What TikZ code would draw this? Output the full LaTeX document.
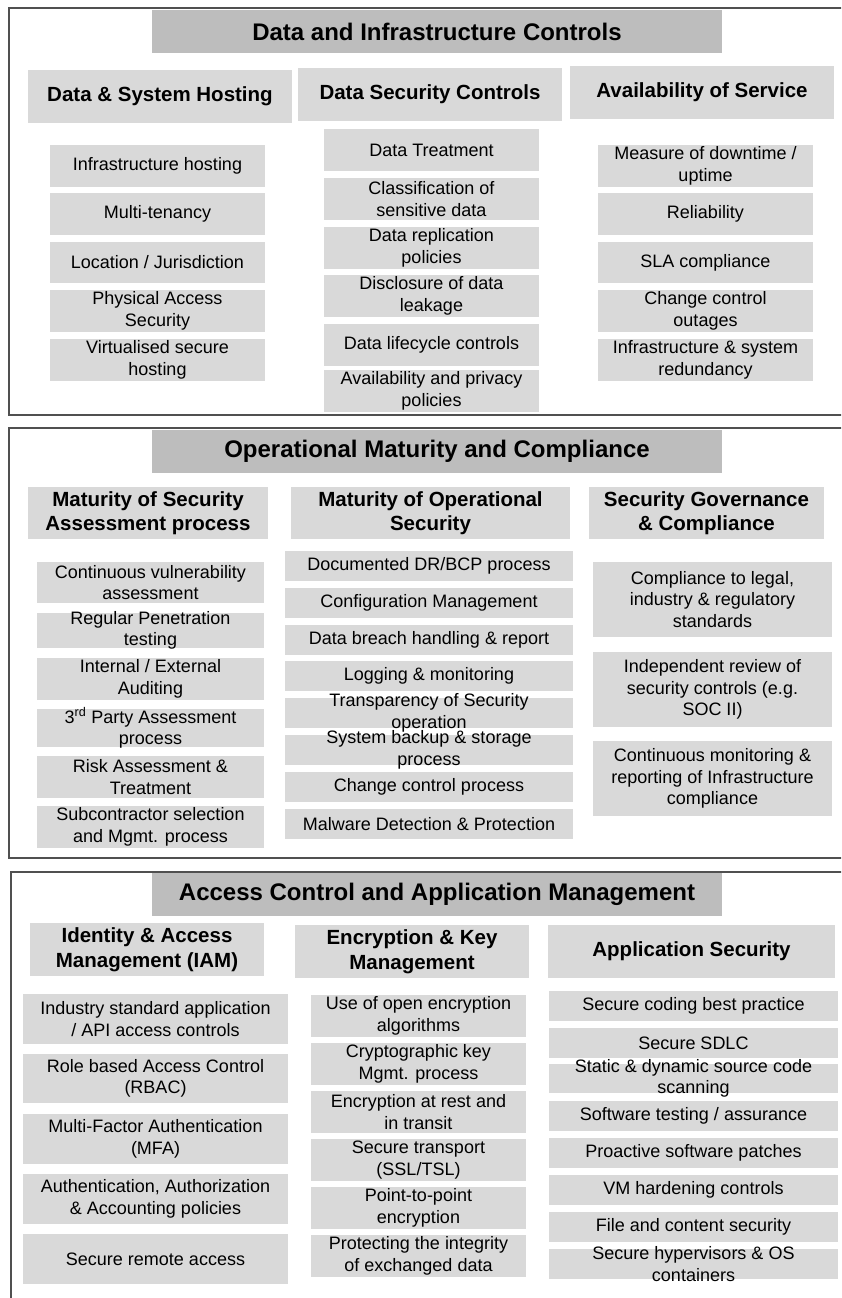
\documentclass[tikz,border=0pt]{standalone}
\usepackage{fontspec}
\setmainfont{Liberation Sans}
\definecolor{barfill}{HTML}{BDBDBD}
\definecolor{cellfill}{HTML}{D9D9D9}
\definecolor{framecol}{HTML}{505050}
\tikzset{
  titlebox/.style={fill=barfill},
  cellbox/.style={fill=cellfill},
  titletext/.style={font={\fontsize{24}{28.8}\selectfont\bfseries}, align=center, inner sep=0pt},
  headtext/.style={font={\fontsize{20.5}{24.6}\selectfont\bfseries}, align=center, inner sep=0pt},
  itemtext/.style={font={\fontsize{18}{21.6}\selectfont}, align=center, inner sep=0pt},
  sectionframe/.style={draw=framecol, line width=1.6pt},
}
% \cell{fill style}{text style}{name}{x1}{y1}{x2}{y2}{text}
\newcommand{\cell}[8]{%
  \fill[#1] (#4,#5) rectangle (#6,#7);
  \node[#2] (#3) at ({(#4+#6)/2},{(#5+#7)/2}) {#8};
}
\begin{document}
\begin{tikzpicture}[x=1pt,y=-1pt]
\useasboundingbox (0,0) rectangle (841,1298);
\clip (0,0) rectangle (841,1298);
\fill[white] (0,0) rectangle (841,1298);

% ---------------- Data and Infrastructure Controls ----------------
\draw[sectionframe] (9,8) rectangle (880,415);
\cell{titlebox}{titletext}{t1}{152}{10}{722}{53}{Data and Infrastructure Controls}
\cell{cellbox}{headtext}{h11}{28}{70}{292}{123}{Data \& System Hosting}
\cell{cellbox}{headtext}{h12}{298}{68}{562}{121}{Data Security Controls}
\cell{cellbox}{headtext}{h13}{570}{66}{834}{119}{Availability of Service}

\cell{cellbox}{itemtext}{a1}{50}{145}{265}{187}{Infrastructure hosting}
\cell{cellbox}{itemtext}{a2}{50}{193}{265}{235}{Multi-tenancy}
\cell{cellbox}{itemtext}{a3}{50}{242}{265}{283}{Location / Jurisdiction}
\cell{cellbox}{itemtext}{a4}{50}{290}{265}{332}{Physical Access\\Security}
\cell{cellbox}{itemtext}{a5}{50}{339}{265}{381}{Virtualised secure\\hosting}

\cell{cellbox}{itemtext}{b1}{324}{129}{539}{171}{Data Treatment}
\cell{cellbox}{itemtext}{b2}{324}{178}{539}{220}{Classification of\\sensitive data}
\cell{cellbox}{itemtext}{b3}{324}{227}{539}{269}{Data replication\\policies}
\cell{cellbox}{itemtext}{b4}{324}{275}{539}{317}{Disclosure of data\\leakage}
\cell{cellbox}{itemtext}{b5}{324}{324}{539}{366}{Data lifecycle controls}
\cell{cellbox}{itemtext}{b6}{324}{370}{539}{412}{Availability and privacy\\policies}

\cell{cellbox}{itemtext}{c1}{598}{145}{813}{187}{Measure of downtime /\\uptime}
\cell{cellbox}{itemtext}{c2}{598}{193}{813}{235}{Reliability}
\cell{cellbox}{itemtext}{c3}{598}{242}{813}{283}{SLA compliance}
\cell{cellbox}{itemtext}{c4}{598}{290}{813}{332}{Change control\\outages}
\cell{cellbox}{itemtext}{c5}{598}{339}{813}{381}{Infrastructure \& system\\redundancy}

% ---------------- Operational Maturity and Compliance ----------------
\draw[sectionframe] (9,428) rectangle (880,858);
\cell{titlebox}{titletext}{t2}{152}{430}{722}{473}{Operational Maturity and Compliance}
\cell{cellbox}{headtext}{h21}{28}{487}{268}{539}{Maturity of Security\\Assessment process}
\cell{cellbox}{headtext}{h22}{291}{487}{570}{539}{Maturity of Operational\\Security}
\cell{cellbox}{headtext}{h23}{589}{487}{824}{539}{Security Governance\\\& Compliance}

\cell{cellbox}{itemtext}{d1}{37}{562}{264}{603}{Continuous vulnerability\\assessment}
\cell{cellbox}{itemtext}{d2}{37}{613}{264}{648}{Regular Penetration\\testing}
\cell{cellbox}{itemtext}{d3}{37}{658}{264}{700}{Internal / External\\Auditing}
\cell{cellbox}{itemtext}{d4}{37}{709}{264}{747}{3\textsuperscript{rd} Party Assessment\\process}
\cell{cellbox}{itemtext}{d5}{37}{756}{264}{798}{Risk Assessment \&\\Treatment}
\cell{cellbox}{itemtext}{d6}{37}{806}{264}{848}{Subcontractor selection\\and Mgmt. process}

\cell{cellbox}{itemtext}{e1}{285}{551}{573}{581}{Documented DR/BCP process}
\cell{cellbox}{itemtext}{e2}{285}{588}{573}{618}{Configuration Management}
\cell{cellbox}{itemtext}{e3}{285}{625}{573}{655}{Data breach handling \& report}
\cell{cellbox}{itemtext}{e4}{285}{661}{573}{691}{Logging \& monitoring}
\cell{cellbox}{itemtext}{e5}{285}{698}{573}{728}{Transparency of Security\\operation}
\cell{cellbox}{itemtext}{e6}{285}{735}{573}{765}{System backup \& storage\\process}
\cell{cellbox}{itemtext}{e7}{285}{772}{573}{802}{Change control process}
\cell{cellbox}{itemtext}{e8}{285}{809}{573}{839}{Malware Detection \& Protection}

\cell{cellbox}{itemtext}{f1}{593}{562}{832}{637}{Compliance to legal,\\industry \& regulatory\\standards}
\cell{cellbox}{itemtext}{f2}{593}{652}{832}{727}{Independent review of\\security controls (e.g.\\SOC II)}
\cell{cellbox}{itemtext}{f3}{593}{741}{832}{816}{Continuous monitoring \&\\reporting of Infrastructure\\compliance}

% ---------------- Access Control and Application Management ----------------
\draw[sectionframe] (11,872) rectangle (880,1320);
\cell{titlebox}{titletext}{t3}{152}{873}{722}{916}{Access Control and Application Management}
\cell{cellbox}{headtext}{h31}{30}{923}{264}{976}{Identity \& Access\\Management (IAM)}
\cell{cellbox}{headtext}{h32}{295}{925}{529}{978}{Encryption \& Key\\Management}
\cell{cellbox}{headtext}{h33}{548}{925}{835}{978}{Application Security}

\cell{cellbox}{itemtext}{g1}{23}{994}{288}{1044}{Industry standard application\\/ API access controls}
\cell{cellbox}{itemtext}{g2}{23}{1054}{288}{1103}{Role based Access Control\\(RBAC)}
\cell{cellbox}{itemtext}{g3}{23}{1114}{288}{1164}{Multi-Factor Authentication\\(MFA)}
\cell{cellbox}{itemtext}{g4}{23}{1174}{288}{1224}{Authentication, Authorization\\\& Accounting policies}
\cell{cellbox}{itemtext}{g5}{23}{1234}{288}{1284}{Secure remote access}

\cell{cellbox}{itemtext}{k1}{311}{995}{526}{1037}{Use of open encryption\\algorithms}
\cell{cellbox}{itemtext}{k2}{311}{1043}{526}{1085}{Cryptographic key\\Mgmt. process}
\cell{cellbox}{itemtext}{k3}{311}{1091}{526}{1133}{Encryption at rest and\\in transit}
\cell{cellbox}{itemtext}{k4}{311}{1139}{526}{1181}{Secure transport\\(SSL/TSL)}
\cell{cellbox}{itemtext}{k5}{311}{1187}{526}{1229}{Point-to-point\\encryption}
\cell{cellbox}{itemtext}{k6}{311}{1235}{526}{1277}{Protecting the integrity\\of exchanged data}

\cell{cellbox}{itemtext}{m1}{549}{991}{838}{1021}{Secure coding best practice}
\cell{cellbox}{itemtext}{m2}{549}{1028}{838}{1058}{Secure SDLC}
\cell{cellbox}{itemtext}{m3}{549}{1064}{838}{1093}{Static \& dynamic source code\\scanning}
\cell{cellbox}{itemtext}{m4}{549}{1101}{838}{1131}{Software testing / assurance}
\cell{cellbox}{itemtext}{m5}{549}{1138}{838}{1168}{Proactive software patches}
\cell{cellbox}{itemtext}{m6}{549}{1175}{838}{1205}{VM hardening controls}
\cell{cellbox}{itemtext}{m7}{549}{1212}{838}{1242}{File and content security}
\cell{cellbox}{itemtext}{m8}{549}{1249}{838}{1279}{Secure hypervisors \& OS\\containers}
\end{tikzpicture}
\end{document}
